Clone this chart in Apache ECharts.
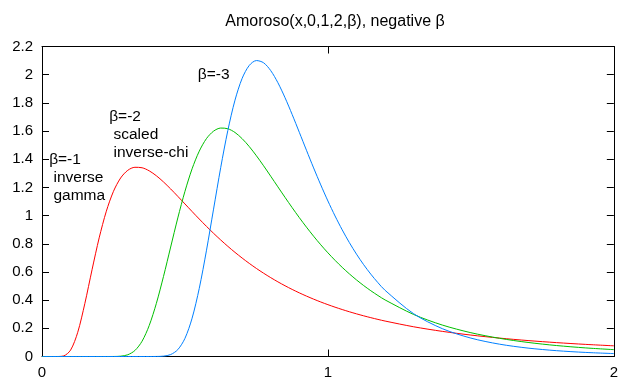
<!DOCTYPE html>
<html>
<head>
<meta charset="utf-8">
<script src="https://cdn.jsdelivr.net/npm/echarts@6/dist/echarts.min.js"></script>
<style>html,body{margin:0;padding:0;background:#fff;}#c{width:621px;height:385px;}</style>
</head>
<body>
<div id="c"></div>
<script>
var titleText = 'Amoroso(x,0,1,2,\u03b2), negative \u03b2';
var xs = [0,0.025,0.05,0.075,0.1,0.125,0.15,0.175,0.2,0.225,0.25,0.275,0.3,0.325,0.35,0.375,0.4,0.425,0.45,0.475,0.5,0.525,0.55,0.575,0.6,0.625,0.65,0.675,0.7,0.725,0.75,0.775,0.8,0.825,0.85,0.875,0.9,0.925,0.95,0.975,1.0,1.025,1.05,1.075,1.1,1.125,1.15,1.175,1.2,1.3,1.4,1.5,1.6,1.7,1.8,1.9,2.0];
var betaM1 = [0,0,0,0.0038,0.0454,0.1718,0.3772,0.6156,0.8422,1.0310,1.1722,1.2669,1.3213,1.3428,1.3395,1.3176,1.2826,1.2388,1.1891,1.1365,1.0827,1.0287,0.9756,0.9240,0.8744,0.8270,0.7818,0.7390,0.6987,0.6606,0.6248,0.5912,0.5596,0.5299,0.5021,0.4760,0.4516,0.4286,0.4071,0.3868,0.3679,0.3500,0.3333,0.3175,0.3027,0.2887,0.2756,0.2632,0.2515,0.2109,0.1784,0.1521,0.1307,0.1130,0.0984,0.0861,0.0758];
var betaM2 = [0,0,0,0,0,0,0,0,0,0,0.0002,0.0023,0.0123,0.0427,0.1085,0.2201,0.3771,0.5684,0.7768,0.9833,1.1722,1.3322,1.4572,1.5458,1.5992,1.6212,1.6164,1.5899,1.5460,1.4897,1.4244,1.3535,1.2794,1.2041,1.1294,1.0563,0.9855,0.9179,0.8535,0.7928,0.7358,0.6824,0.6326,0.5864,0.5434,0.5036,0.4668,0.4328,0.4014,0.2981,0.2233,0.1689,0.1291,0.0997,0.0777,0.0612,0.0487];
var betaM3 = [0,0,0,0,0,0,0,0,0,0,0,0,0,0,0,0,0.0003,0.0026,0.0138,0.0487,0.1288,0.2721,0.4833,0.7499,1.0458,1.3400,1.6044,1.8192,1.9737,2.0659,2.1002,2.0845,2.0289,1.9432,1.8366,1.7171,1.5910,1.4635,1.3382,1.2177,1.1036,0.9972,0.8987,0.8085,0.7262,0.6517,0.5844,0.5238,0.4694,0.3033,0.1977,0.1306,0.0875,0.0596,0.0413,0.0290,0.0207];
var yTickLabels = ['0','0.2','0.4','0.6','0.8','1','1.2','1.4','1.6','1.8','2','2.2'];
var xTickLabels = ['0','1','2'];
var annotations = [
  {x:0.025, y:1.4, text:'\u03b2=-1\n inverse\n gamma'},
  {x:0.235, y:1.70, text:'\u03b2=-2\n scaled\n inverse-chi'},
  {x:0.545, y:2.0, text:'\u03b2=-3'}
];

function pairs(ys){ return xs.map(function(x,i){ return [x, ys[i]]; }); }

var FONT = '"Liberation Sans", Arial, sans-serif';
var chart = echarts.init(document.getElementById('c'), null, {renderer:'canvas'});
var axisCommon = {
  axisLine:{show:true, onZero:false, lineStyle:{color:'#000', width:1}},
  axisTick:{show:true, inside:true, length:7, lineStyle:{color:'#000', width:1}},
  splitLine:{show:false}
};
var option = {
  animation:false,
  backgroundColor:'#fff',
  title:{text:titleText, left:330, top:9, textAlign:'center',
    textStyle:{fontSize:16, fontWeight:'normal', color:'#000', fontFamily:FONT}},
  grid:{left:42, right:3, top:46.5, bottom:28.5, containLabel:false},
  xAxis:[
    Object.assign({type:'value', min:0, max:2, interval:1, position:'bottom',
      axisLabel:{show:true, margin:9, fontSize:15, color:'#000', fontFamily:FONT,
        formatter:function(v){ return xTickLabels[Math.round(v)]; }}}, axisCommon),
    Object.assign({type:'value', min:0, max:2, interval:1, position:'top',
      axisLabel:{show:false}}, axisCommon)
  ],
  yAxis:[
    Object.assign({type:'value', min:0, max:2.2, interval:0.2, position:'left',
      axisLabel:{show:true, margin:9, fontSize:15, color:'#000', fontFamily:FONT,
        formatter:function(v){ return yTickLabels[Math.round(v/0.2)]; }}}, axisCommon),
    Object.assign({type:'value', min:0, max:2.2, interval:0.2, position:'right',
      axisLabel:{show:false}}, axisCommon)
  ],
  series:[
    {type:'line', name:'b1', data:pairs(betaM1), showSymbol:false, smooth:0.3, lineStyle:{color:'#ff0000', width:1}, itemStyle:{color:'#ff0000'}, xAxisIndex:0, yAxisIndex:0},
    {type:'line', name:'b2', data:pairs(betaM2), showSymbol:false, smooth:0.3, lineStyle:{color:'#00c000', width:1}, itemStyle:{color:'#00c000'}, xAxisIndex:0, yAxisIndex:0},
    {type:'line', name:'b3', data:pairs(betaM3), showSymbol:false, smooth:0.3, lineStyle:{color:'#0080ff', width:1}, itemStyle:{color:'#0080ff'}, xAxisIndex:0, yAxisIndex:0}
  ]
};
chart.setOption(option);
var LH = 18;
var graphics = annotations.map(function(a){
  var p = chart.convertToPixel({xAxisIndex:0, yAxisIndex:0}, [a.x, a.y]);
  return {type:'text', x:p[0], y:p[1] - LH/2, z:100,
    style:{text:a.text, fill:'#000', font:'15.5px ' + FONT, lineHeight:LH, align:'left', verticalAlign:'top'}};
});
chart.setOption({graphic:graphics});
</script>
</body>
</html>
